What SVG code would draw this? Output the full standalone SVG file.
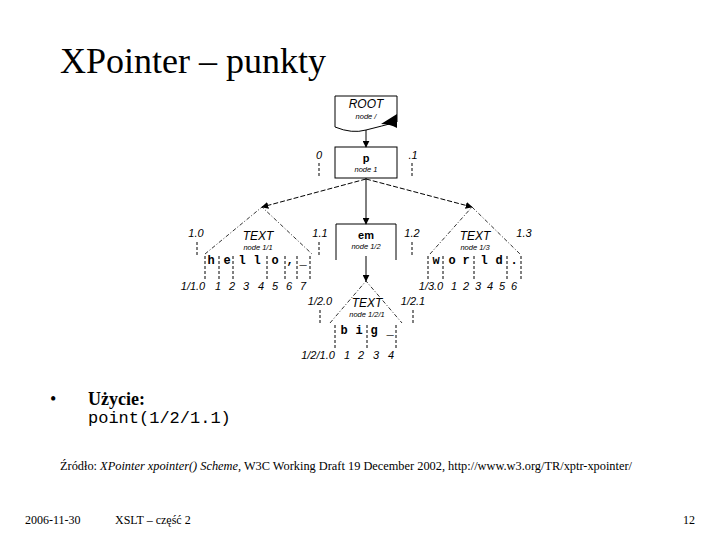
<svg xmlns="http://www.w3.org/2000/svg" width="720" height="540" viewBox="0 0 720 540">
<defs>
<marker id="ah" viewBox="0 0 10 10" refX="9" refY="5" markerWidth="7" markerHeight="7" markerUnits="userSpaceOnUse" orient="auto">
<path d="M0,0 L10,5 L0,10 z" fill="#000"/>
</marker>
<style>
.ser{font-family:"Liberation Serif","Times New Roman",serif;fill:#000}
.lbl{font-family:"Liberation Sans",Arial,sans-serif;font-style:italic;font-size:11px;fill:#000}
.big{font-family:"Liberation Sans",Arial,sans-serif;font-style:italic;font-size:12px;fill:#000}
.sm{font-family:"Liberation Sans",Arial,sans-serif;font-style:italic;font-size:7.5px;fill:#000}
.nm{font-family:"Liberation Sans",Arial,sans-serif;font-weight:bold;font-size:11px;fill:#000}
.ch{font-family:"Liberation Mono","Courier New",monospace;font-weight:bold;font-size:12px;fill:#000}
.box{fill:#fff;stroke:#000;stroke-width:1}
.tri{fill:none;stroke:#000;stroke-width:0.8;stroke-dasharray:4,2,1,2}
.dash{stroke:#000;stroke-width:1;stroke-dasharray:3,2;fill:none}
.conn{stroke:#000;stroke-width:1;fill:none;marker-end:url(#ah)}
.conn2{stroke:#000;stroke-width:1;fill:none;stroke-dasharray:5,2;marker-end:url(#ah)}
</style>
</defs>
<rect width="720" height="540" fill="#fff"/>
<text class="ser" x="60" y="73" font-size="36">XPointer – punkty</text>

<g id="root">
<path class="box" d="M335,96 H397 V122 Q382,126 366,130 Q352,134 335,127 Z"/>
<path d="M381,124 L397,114 L397,128 Q390,124 381,124 Z" fill="#000"/>
<text class="big" x="366" y="108" text-anchor="middle">ROOT</text>
<text class="sm" x="366" y="119" text-anchor="middle">node /</text>
</g>

<g id="p">
<rect class="box" x="335" y="147" width="62" height="31"/>
<text class="nm" x="366" y="162" text-anchor="middle">p</text>
<text class="sm" x="366" y="172" text-anchor="middle">node 1</text>
<text class="lbl" x="319" y="159" text-anchor="middle">0</text>
<line class="dash" x1="319" y1="163" x2="319" y2="178"/>
<text class="lbl" x="413" y="159" text-anchor="middle">.1</text>
<line class="dash" x1="412" y1="163" x2="412" y2="178"/>
</g>

<g id="em">
<path class="box" d="M336,260 V224 H396 V260" fill="none"/>
<text class="nm" x="366" y="239" text-anchor="middle">em</text>
<text class="sm" x="366" y="249" text-anchor="middle">node 1/2</text>
<text class="lbl" x="320" y="237" text-anchor="middle">1.1</text>
<line class="dash" x1="319" y1="242" x2="319" y2="255"/>
<text class="lbl" x="412" y="237" text-anchor="middle">1.2</text>
<line class="dash" x1="412" y1="242" x2="412" y2="255"/>
</g>

<g id="text11">
<path class="tri" d="M205,254 L262,207 L312,254"/>
<text class="big" x="258" y="240" text-anchor="middle">TEXT</text>
<text class="sm" x="258" y="250" text-anchor="middle">node 1/1</text>
<text class="lbl" x="196" y="237" text-anchor="middle">1.0</text>
<line class="dash" x1="197" y1="242" x2="197" y2="255"/>
<g class="ch">
<text x="211" y="264" text-anchor="middle">h</text>
<text x="227" y="264" text-anchor="middle">e</text>
<text x="242" y="264" text-anchor="middle">l</text>
<text x="257" y="264" text-anchor="middle">l</text>
<text x="275" y="264" text-anchor="middle">o</text>
<text x="290" y="264" text-anchor="middle">,</text>
<text x="303" y="264" text-anchor="middle">_</text>
</g>
<path class="dash" d="M205,256 V280 M219,256 V280 M233,256 V280 M267,256 V280 M285,256 V280 M297,256 V280 M310,256 V280"/>
<g class="lbl">
<text x="193" y="290" text-anchor="middle">1/1.0</text>
<text x="218" y="290" text-anchor="middle">1</text>
<text x="232" y="290" text-anchor="middle">2</text>
<text x="246" y="290" text-anchor="middle">3</text>
<text x="261" y="290" text-anchor="middle">4</text>
<text x="275" y="290" text-anchor="middle">5</text>
<text x="289" y="290" text-anchor="middle">6</text>
<text x="303" y="290" text-anchor="middle">7</text>
</g>
</g>

<g id="text13">
<path class="tri" d="M430,254 L472,207 L520,254"/>
<text class="big" x="475" y="240" text-anchor="middle">TEXT</text>
<text class="sm" x="475" y="250" text-anchor="middle">node 1/3</text>
<text class="lbl" x="524" y="237" text-anchor="middle">1.3</text>
<g class="ch">
<text x="436" y="264" text-anchor="middle">w</text>
<text x="452" y="264" text-anchor="middle">o</text>
<text x="466" y="264" text-anchor="middle">r</text>
<text x="484" y="264" text-anchor="middle">l</text>
<text x="499" y="264" text-anchor="middle">d</text>
<text x="514" y="264" text-anchor="middle">.</text>
</g>
<path class="dash" d="M428,256 V280 M443,256 V280 M474,256 V280 M507,256 V280 M521,256 V280"/>
<g class="lbl">
<text x="431" y="290" text-anchor="middle">1/3.0</text>
<text x="454" y="290" text-anchor="middle">1</text>
<text x="466" y="290" text-anchor="middle">2</text>
<text x="478" y="290" text-anchor="middle">3</text>
<text x="490" y="290" text-anchor="middle">4</text>
<text x="502" y="290" text-anchor="middle">5</text>
<text x="514" y="290" text-anchor="middle">6</text>
</g>
</g>

<g id="text121">
<path class="tri" d="M330,323 L366,281 L402,323"/>
<text class="big" x="367" y="307" text-anchor="middle">TEXT</text>
<text class="sm" x="367" y="317" text-anchor="middle">node 1/2/1</text>
<text class="lbl" x="320" y="305" text-anchor="middle">1/2.0</text>
<line class="dash" x1="320" y1="310" x2="320" y2="323"/>
<text class="lbl" x="413" y="305" text-anchor="middle">1/2.1</text>
<line class="dash" x1="413" y1="310" x2="413" y2="325"/>
<g class="ch">
<text x="344" y="334" text-anchor="middle">b</text>
<text x="359" y="334" text-anchor="middle">i</text>
<text x="374" y="334" text-anchor="middle">g</text>
<text x="390" y="334" text-anchor="middle">_</text>
</g>
<path class="dash" d="M335,325 V349 M367,325 V349 M396,325 V349"/>
<g class="lbl">
<text x="318" y="359" text-anchor="middle">1/2/1.0</text>
<text x="347" y="359" text-anchor="middle">1</text>
<text x="361" y="359" text-anchor="middle">2</text>
<text x="376" y="359" text-anchor="middle">3</text>
<text x="391" y="359" text-anchor="middle">4</text>
</g>
</g>

<g id="connectors">
<line class="conn" x1="366" y1="130" x2="366" y2="147"/>
<line class="conn" x1="366" y1="178" x2="366" y2="224"/>
<line class="conn2" x1="366" y1="179" x2="262" y2="207"/>
<line class="conn2" x1="366" y1="179" x2="472" y2="207"/>
<line class="conn" x1="366" y1="256" x2="366" y2="281"/>
</g>

<text class="ser" x="50" y="405" font-size="18">•</text>
<text class="ser" x="88" y="405" font-size="18" font-weight="bold">Użycie:</text>
<text x="88" y="423" font-family="'Liberation Mono','Courier New',monospace" font-size="17" fill="#000">point(1/2/1.1)</text>

<text class="ser" x="60" y="470" font-size="12" textLength="572" lengthAdjust="spacingAndGlyphs">Źródło: <tspan font-style="italic">XPointer xpointer() Scheme</tspan>, W3C Working Draft 19 December 2002, http://www.w3.org/TR/xptr-xpointer/</text>

<text class="ser" x="25" y="524" font-size="12">2006-11-30</text>
<text class="ser" x="115" y="524" font-size="12">XSLT – część 2</text>
<text class="ser" x="695" y="524" font-size="12" text-anchor="end">12</text>
</svg>
